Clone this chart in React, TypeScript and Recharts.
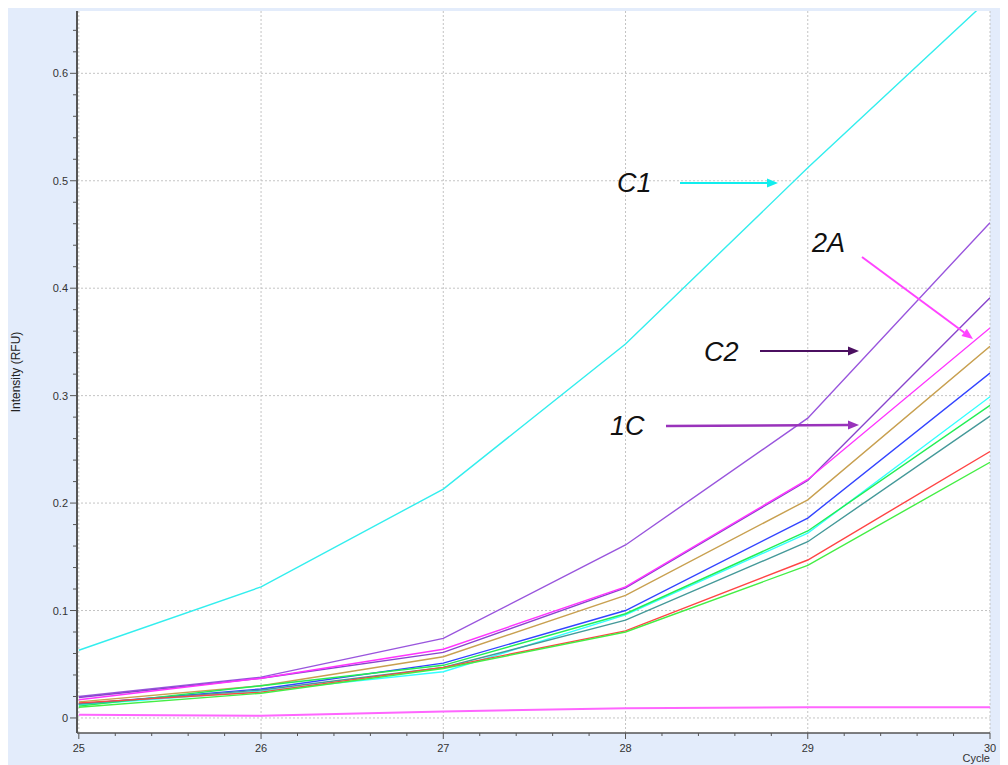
import { LineChart, Line, XAxis, YAxis, CartesianGrid } from 'recharts'

// amplification cycles on the x axis
const cycles = [25, 26, 27, 28, 29, 30]

// fluorescence readings per well (RFU)
const wellC1 = [0.063, 0.122, 0.213, 0.348, 0.512, 0.67]
const wellC2 = [0.02, 0.038, 0.074, 0.161, 0.279, 0.461]
const well1C = [0.019, 0.037, 0.061, 0.121, 0.221, 0.391]
const well2A = [0.017, 0.037, 0.064, 0.122, 0.222, 0.363]
const wellB1 = [0.015, 0.03, 0.057, 0.114, 0.203, 0.346]
const wellB2 = [0.013, 0.027, 0.051, 0.1, 0.186, 0.321]
const wellD1 = [0.012, 0.025, 0.043, 0.096, 0.172, 0.299]
const wellD2 = [0.011, 0.03, 0.049, 0.097, 0.174, 0.291]
const wellE1 = [0.013, 0.026, 0.047, 0.091, 0.164, 0.281]
const wellE2 = [0.014, 0.024, 0.047, 0.081, 0.147, 0.248]
const wellF1 = [0.01, 0.023, 0.046, 0.08, 0.142, 0.238]
const wellNTC = [0.003, 0.002, 0.006, 0.009, 0.01, 0.01]

// axis ticks: labelled majors plus unlabelled minors
const xTicks = [
  25, 25.2, 25.4, 25.6, 25.8, 26, 26.2, 26.4, 26.6, 26.8, 27, 27.2, 27.4, 27.6, 27.8,
  28, 28.2, 28.4, 28.6, 28.8, 29, 29.2, 29.4, 29.6, 29.8, 30,
]
const xMajor = [25, 26, 27, 28, 29, 30]
const yTicks = [
  0, 0.02, 0.04, 0.06, 0.08, 0.1, 0.12, 0.14, 0.16, 0.18, 0.2, 0.22, 0.24, 0.26, 0.28,
  0.3, 0.32, 0.34, 0.36, 0.38, 0.4, 0.42, 0.44, 0.46, 0.48, 0.5, 0.52, 0.54, 0.56, 0.58,
  0.6, 0.62, 0.64,
]
const yMajor = [0, 0.1, 0.2, 0.3, 0.4, 0.5, 0.6]

const wells = [
  { key: 'C1', values: wellC1, color: '#33EEEE', width: 1.4 },
  { key: 'C2', values: wellC2, color: '#9955DD', width: 1.4 },
  { key: '1C', values: well1C, color: '#8844CC', width: 1.4 },
  { key: '2A', values: well2A, color: '#FF33FF', width: 1.4 },
  { key: 'B1', values: wellB1, color: '#C8A050', width: 1.4 },
  { key: 'B2', values: wellB2, color: '#3344FF', width: 1.4 },
  { key: 'D1', values: wellD1, color: '#33FFFF', width: 1.4 },
  { key: 'D2', values: wellD2, color: '#22EE55', width: 1.4 },
  { key: 'E1', values: wellE1, color: '#449999', width: 1.4 },
  { key: 'E2', values: wellE2, color: '#FF4444', width: 1.4 },
  { key: 'F1', values: wellF1, color: '#44EE44', width: 1.4 },
  { key: 'NTC', values: wellNTC, color: '#FF66FF', width: 2 },
]

const data = cycles.map((c, i) => {
  const row: Record<string, number> = { cycle: c }
  wells.forEach((w) => (row[w.key] = w.values[i]))
  return row
})

const FONT = "Arial, 'Liberation Sans', sans-serif"

const isMajor = (v: number, majors: number[]) => majors.some((m) => Math.abs(m - v) < 1e-6)

function YTick({ x, y, payload }: any) {
  const major = isMajor(payload.value, yMajor)
  const len = major ? 7 : 4
  return (
    <g>
      <line x1={x - len} y1={y} x2={x} y2={y} stroke="#555" strokeWidth={1} />
      {major && (
        <text x={x - 9} y={y + 4} textAnchor="end" fontSize={11} fill="#333" fontFamily={FONT}>
          {payload.value === 0 ? '0' : payload.value.toFixed(1)}
        </text>
      )}
    </g>
  )
}

function XTick({ x, y, payload }: any) {
  const major = isMajor(payload.value, xMajor)
  const len = major ? 6 : 3
  return (
    <g>
      <line x1={x} y1={y} x2={x} y2={y + len} stroke="#555" strokeWidth={1} />
      {major && (
        <text x={x} y={y + 19} textAnchor="middle" fontSize={11} fill="#333" fontFamily={FONT}>
          {payload.value}
        </text>
      )}
    </g>
  )
}

// callout arrow with a filled head at (x2, y2)
function Arrow({ x1, y1, x2, y2, color, width = 2 }: any) {
  const a = Math.atan2(y2 - y1, x2 - x1)
  const L = 11
  const W = 4.5
  const bx = x2 - L * Math.cos(a)
  const by = y2 - L * Math.sin(a)
  const px = -Math.sin(a) * W
  const py = Math.cos(a) * W
  return (
    <g>
      <line x1={x1} y1={y1} x2={bx} y2={by} stroke={color} strokeWidth={width} />
      <polygon points={`${x2},${y2} ${bx + px},${by + py} ${bx - px},${by - py}`} fill={color} />
    </g>
  )
}

const calloutStyle = { fontSize: 27, fontStyle: 'italic', fontFamily: FONT, fill: '#111' } as const

export default function App() {
  return (
    <div
      style={{
        position: 'relative',
        width: 1001,
        height: 758,
        margin: '-1px 0 0 -1px',
        background: '#E3ECFB',
        overflow: 'hidden',
      }}
    >
      <LineChart width={1001} height={758} data={data} margin={{ top: 4, right: 18, left: 0, bottom: 0 }}>
        <CartesianGrid
          fill="#FFFFFF"
          stroke="#C4C4C4"
          strokeDasharray="2 2"
          horizontalValues={yMajor}
          verticalValues={xMajor}
        />
        <XAxis
          dataKey="cycle"
          type="number"
          domain={[24.99, 30]}
          ticks={xTicks}
          interval={0}
          height={32}
          tickSize={0}
          tickMargin={0}
          tickLine={false}
          tick={<XTick />}
          axisLine={{ stroke: '#555', strokeWidth: 1.5 }}
          allowDataOverflow
        />
        <YAxis
          type="number"
          domain={[-0.014, 0.658]}
          ticks={yTicks}
          interval={0}
          width={70}
          tickSize={0}
          tickMargin={0}
          tickLine={false}
          tick={<YTick />}
          axisLine={{ stroke: '#555', strokeWidth: 2 }}
          allowDataOverflow
        />
        {wells.map((w) => (
          <Line
            key={w.key}
            type="linear"
            dataKey={w.key}
            stroke={w.color}
            strokeWidth={w.width}
            dot={false}
            isAnimationActive={false}
          />
        ))}
      </LineChart>

      <svg
        width={1001}
        height={758}
        style={{ position: 'absolute', left: 0, top: 0, pointerEvents: 'none' }}
      >
        <text
          transform="translate(9,365) rotate(-90)"
          textAnchor="middle"
          dominantBaseline="central"
          fontSize={12}
          fontFamily={FONT}
          fill="#222"
        >
          Intensity (RFU)
        </text>
        <text x={983} y={755} textAnchor="end" fontSize={11} fontFamily={FONT} fill="#333">
          Cycle
        </text>

        <text x={610} y={185} {...calloutStyle}>C1</text>
        <Arrow x1={673} y1={176} x2={771} y2={176} color="#11EEEE" />

        <text x={805} y={245} {...calloutStyle}>2A</text>
        <Arrow x1={855} y1={250} x2={966} y2={332} color="#FF44FF" />

        <text x={697} y={354} {...calloutStyle}>C2</text>
        <Arrow x1={753} y1={344} x2={852} y2={344} color="#4B0F60" />

        <text x={603} y={428} {...calloutStyle}>1C</text>
        <Arrow x1={659} y1={419} x2={852} y2={418} color="#9933BB" width={2.5} />
      </svg>
    </div>
  )
}
